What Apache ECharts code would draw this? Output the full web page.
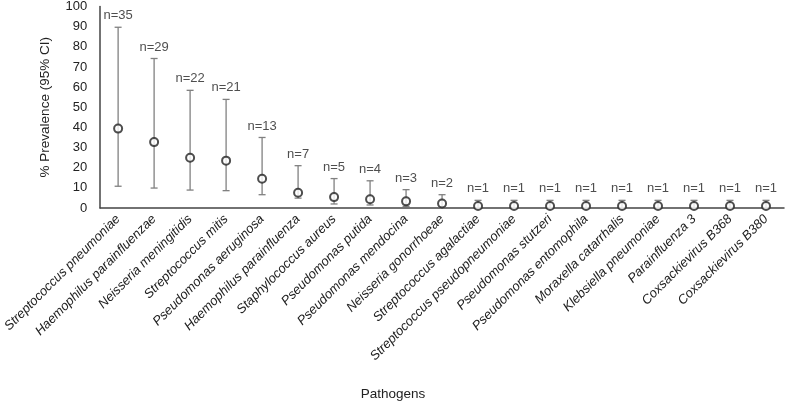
<!DOCTYPE html>
<html><head><meta charset="utf-8">
<script src="https://cdn.jsdelivr.net/npm/echarts@6/dist/echarts.min.js"></script>
<style>html,body{margin:0;padding:0;background:#fff}#c{width:786px;height:402px}</style>
</head><body><div id="c"></div>
<script>
const categories = ["Streptococcus pneumoniae","Haemophilus parainfluenzae","Neisseria meningitidis","Streptococcus mitis","Pseudomonas aeruginosa","Haemophilus parainfluenza","Staphylococcus aureus","Pseudomonas putida","Pseudomonas mendocina","Neisseria gonorrhoeae","Streptococcus agalactiae","Streptococcus pseudopneumoniae","Pseudomonas stutzeri","Pseudomonas entomophila","Moraxella catarrhalis","Klebsiella pneumoniae","Parainfluenza 3","Coxsackievirus B368","Coxsackievirus B380"];
const prevalence = [39.4, 32.7, 24.9, 23.5, 14.5, 7.6, 5.4, 4.3, 3.3, 2.2, 1.0, 1.0, 1.0, 1.0, 1.0, 1.0, 1.0, 1.0, 1.0];
const ciLower = [10.8, 9.9, 8.9, 8.6, 6.6, 4.9, 2.0, 1.5, 0.8, 0.4, 0.2, 0.2, 0.2, 0.2, 0.2, 0.2, 0.2, 0.2, 0.2];
const ciUpper = [89.7, 74.2, 58.4, 53.9, 35.0, 21.0, 14.6, 13.5, 9.1, 6.6, 3.8, 3.8, 3.8, 3.8, 3.8, 3.8, 3.8, 3.8, 3.8];
const nLabels = ["n=35","n=29","n=22","n=21","n=13","n=7","n=5","n=4","n=3","n=2","n=1","n=1","n=1","n=1","n=1","n=1","n=1","n=1","n=1"];
const yTicks = [0,10,20,30,40,50,60,70,80,90,100];

const font = 'Liberation Sans, Arial, sans-serif';
const chart = echarts.init(document.getElementById('c'), null, {renderer:'canvas'});
const errData = categories.map((c,i)=>[i, ciLower[i], ciUpper[i]]);
chart.setOption({
  animation:false,
  textStyle:{fontFamily:font},
  title:{text:'Pathogens', left:'center', top:387, padding:0,
    textStyle:{fontSize:13.5, fontWeight:'normal', color:'#222', fontFamily:font}},
  grid:{left:100, right:2, top:5, bottom:194, containLabel:false},
  xAxis:{
    type:'category', data:categories, boundaryGap:true,
    axisLine:{lineStyle:{color:'#444', width:1.5}},
    axisTick:{show:false},
    axisLabel:{rotate:45, interval:0, fontStyle:'italic', fontSize:13, color:'#222', fontFamily:font, margin:9}
  },
  yAxis:{
    type:'value', min:0, max:100, interval:10,
    axisLine:{show:true, lineStyle:{color:'#444', width:1.5}},
    axisTick:{show:false},
    splitLine:{show:false},
    axisLabel:{fontSize:13, color:'#222', fontFamily:font, margin:13,
      formatter:v=>yTicks.includes(v)?String(v):''},
    name:'% Prevalence (95% CI)', nameLocation:'middle', nameGap:48,
    nameTextStyle:{fontSize:13.5, color:'#222', fontFamily:font}
  },
  series:[
    {
      type:'custom', data:errData, z:1,
      renderItem:(params, api)=>{
        const x = api.value(0);
        const lo = api.coord([x, api.value(1)]);
        const hi = api.coord([x, api.value(2)]);
        const hw = 3.5;
        const st = {stroke:'#808080', lineWidth:1.3};
        return {type:'group', children:[
          {type:'line', shape:{x1:lo[0],y1:lo[1],x2:hi[0],y2:hi[1]}, style:st},
          {type:'line', shape:{x1:lo[0]-hw,y1:lo[1],x2:lo[0]+hw,y2:lo[1]}, style:st},
          {type:'line', shape:{x1:hi[0]-hw,y1:hi[1],x2:hi[0]+hw,y2:hi[1]}, style:st}
        ]};
      }
    },
    {
      type:'scatter', data:prevalence, symbol:'circle', symbolSize:8, z:3,
      itemStyle:{color:'#fff', borderColor:'#222', borderWidth:2}
    },
    {
      type:'scatter', data:ciUpper, symbolSize:0, z:4, silent:true,
      label:{show:true, position:'top', distance:5, fontSize:13, color:'#222', fontFamily:font,
        formatter:p=>nLabels[p.dataIndex]}
    }
  ]
});
</script></body></html>
